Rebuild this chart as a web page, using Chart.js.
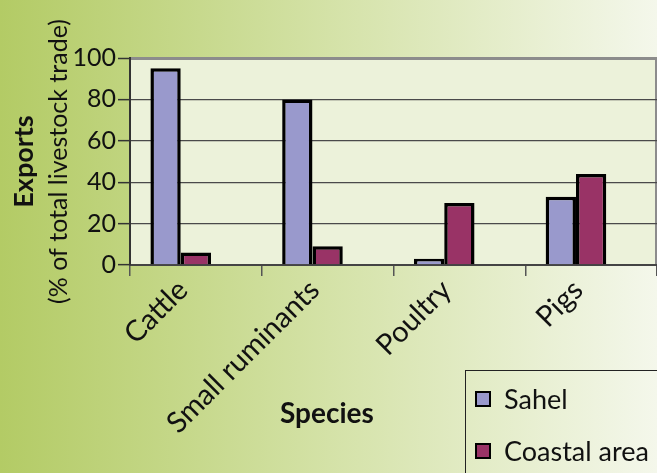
<!DOCTYPE html>
<html>
<head>
<meta charset="utf-8">
<script src="https://cdn.jsdelivr.net/npm/chart.js@4/dist/chart.umd.min.js"></script>
<style>
  html, body { margin: 0; padding: 0; }
  body {
    width: 657px; height: 473px; overflow: hidden; position: relative;
    background: linear-gradient(to right, #b3cb65 0%, #d4e2a7 50%, #f4f7eb 100%);
    font-family: Lato, "Noto Sans", sans-serif;
  }
  #wrap { position: absolute; left: 0; top: 0; width: 657px; height: 473px; }
  #xTitle {
    position: absolute; left: 280px; top: 395px; line-height: 34px;
    font: bold 28px Lato, sans-serif; color: #111; white-space: nowrap;
  }
  #legend {
    position: absolute; left: 465px; top: 370px; width: 220px; height: 130px;
    border: 1.5px solid #222; box-sizing: border-box;
  }
  #legend .item {
    position: absolute; left: 9px; height: 32px; line-height: 32px;
    display: flex; align-items: center;
    font-size: 27px; font-family: Lato, sans-serif; color: #111; white-space: nowrap;
  }
  #legend .sw { width: 12px; height: 12px; border: 2.5px solid #000; margin-right: 13px; flex: none; }
</style>
</head>
<body>
<div id="wrap"><canvas id="chart" width="657" height="473"></canvas></div>
<div id="xTitle">Species</div>
<div id="legend"></div>
<script>
// Livestock exports by species, Sahel vs coastal area
const categories = ['Cattle', 'Small ruminants', 'Poultry', 'Pigs'];
const sahel = [95, 80, 3, 33];
const coastal = [6, 9, 30, 44];
const yTicks = [0, 20, 40, 60, 80, 100];

const FONT = 'Lato, "Noto Sans", sans-serif';

// light panel behind the plot plus its grey right edge
const plotPanel = {
  id: 'plotPanel',
  beforeDraw(chart) {
    const { ctx, chartArea: a } = chart;
    ctx.save();
    ctx.fillStyle = '#ecf2da';
    ctx.fillRect(a.left, a.top, a.right - a.left, a.bottom - a.top);
    ctx.strokeStyle = '#8c8c8c';
    ctx.lineWidth = 2;
    ctx.beginPath();
    ctx.moveTo(a.right - 1, a.top);
    ctx.lineTo(a.right - 1, a.bottom);
    ctx.stroke();
    ctx.restore();
  }
};

function build() {
  const chart = new Chart(document.getElementById('chart'), {
    type: 'bar',
    data: {
      labels: categories,
      datasets: [
        { label: 'Sahel', data: sahel, backgroundColor: '#9999cc', borderColor: '#000', borderWidth: 3.5 },
        { label: 'Coastal area', data: coastal, backgroundColor: '#993366', borderColor: '#000', borderWidth: 3.5 },
        // empty third slot in each group keeps the pair left of centre
        { label: '', data: categories.map(() => null) }
      ]
    },
    options: {
      responsive: false,
      animation: false,
      layout: { padding: { top: 58, right: 0, bottom: 0, left: 0 } },
      datasets: { bar: { categoryPercentage: 0.69, barPercentage: 1 } },
      plugins: { legend: { display: false }, tooltip: { enabled: false } },
      scales: {
        x: {
          offset: true,
          grid: { display: true, drawOnChartArea: false, drawTicks: true, tickLength: 11, offset: true, color: '#555', lineWidth: 1.5 },
          border: { display: true, color: '#444', width: 2 },
          ticks: { autoSkip: false, maxRotation: 45, minRotation: 45, padding: -3, labelOffset: -13, color: '#111', font: { family: FONT, size: 29 } },
          afterFit(s) { s.height = 208; }
        },
        y: {
          min: 0, max: 100,
          weight: 0,
          afterBuildTicks(s) { s.ticks = yTicks.map(v => ({ value: v })); },
          grid: {
            color: c => (c.tick && c.tick.value === 100 ? '#8c8c8c' : '#4a4a4a'),
            lineWidth: c => (c.tick && c.tick.value === 100 ? 3 : 1.3),
            tickColor: '#333', tickWidth: 1.5, tickLength: 12, drawTicks: true
          },
          border: { display: true, color: '#333', width: 2 },
          ticks: { padding: 2, color: '#111', font: { family: FONT, size: 25 } },
          title: { display: true, text: '(% of total livestock trade)', color: '#111', font: { family: FONT, size: 25 }, padding: { top: 8, bottom: 0 } },
          afterFit(s) { s.width = 94; }
        },
        yTitle: {
          position: 'left',
          weight: 1,
          grid: { display: false },
          border: { display: false },
          ticks: { display: false },
          title: { display: true, text: 'Exports', color: '#111', font: { family: FONT, size: 27, weight: 'bold' }, padding: { top: 8, bottom: 0 } },
          afterFit(s) { s.width = 36; }
        }
      }
    },
    plugins: [plotPanel]
  });

  // legend built from the chart's own datasets
  const legend = document.getElementById('legend');
  chart.data.datasets.filter(d => d.label).forEach((d, i) => {
    const item = document.createElement('div');
    item.className = 'item';
    item.style.top = (12 + i * 52) + 'px';
    const sw = document.createElement('span');
    sw.className = 'sw';
    sw.style.background = d.backgroundColor;
    const tx = document.createElement('span');
    tx.textContent = d.label;
    item.appendChild(sw);
    item.appendChild(tx);
    legend.appendChild(item);
  });
}

Promise.all([
  document.fonts.load('24px Lato'),
  document.fonts.load('bold 24px Lato')
]).then(build, build);
</script>
</body>
</html>
